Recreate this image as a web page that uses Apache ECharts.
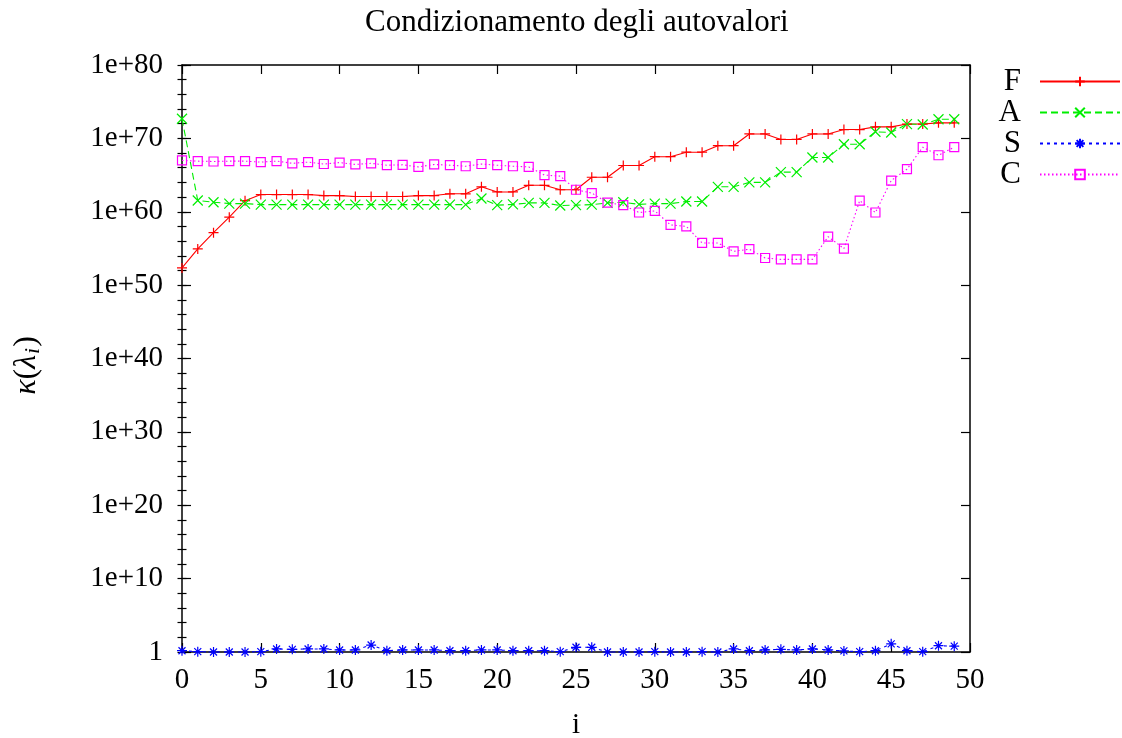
<!DOCTYPE html>
<html>
<head>
<meta charset="utf-8">
<title>Condizionamento degli autovalori</title>
<script src="https://cdn.jsdelivr.net/npm/echarts@6/dist/echarts.min.js"></script>
<style>
  html, body { margin: 0; padding: 0; background: #ffffff; }
  #chart { width: 1122px; height: 738px; }
</style>
</head>
<body>
<div id="chart"></div>
<script>
// Eigenvalue index
const indices = Array.from({ length: 50 }, (_, i) => i);

// Condition number of each eigenvalue, one array per method
const seriesF = [
  2.2e52, 8.7e54, 1.4e57, 1.8e59, 3.2e61, 2.2e62, 2.2e62, 2.2e62, 2.2e62, 1.6e62,
  1.6e62, 1.2e62, 1.2e62, 1.2e62, 1.2e62, 1.6e62, 1.6e62, 2.8e62, 2.8e62, 2.5e63,
  5.0e62, 5.0e62, 4.0e63, 4.0e63, 1.0e63, 1.0e63, 5.0e64, 5.0e64, 2.0e66, 2.0e66,
  3.2e67, 3.2e67, 1.3e68, 1.3e68, 1.0e69, 1.0e69, 4.0e70, 4.0e70, 7.1e69, 7.1e69,
  4.0e70, 4.0e70, 1.6e71, 1.6e71, 3.7e71, 3.7e71, 8.9e71, 8.9e71, 1.3e72, 1.3e72
];
const seriesA = [
  4.7e72, 3.4e61, 2.0e61, 1.3e61, 1.3e61, 9.5e60, 9.5e60, 9.5e60, 9.5e60, 9.5e60,
  9.5e60, 9.5e60, 9.5e60, 9.5e60, 9.5e60, 9.5e60, 9.5e60, 9.5e60, 9.5e60, 6.3e61,
  7.9e60, 1.0e61, 1.6e61, 1.6e61, 7.1e60, 7.9e60, 9.5e60, 1.6e61, 2.0e61, 1.0e61,
  1.3e61, 1.3e61, 2.5e61, 2.5e61, 2.5e63, 2.5e63, 1.0e64, 1.0e64, 2.5e65, 2.5e65,
  2.5e67, 2.5e67, 1.6e69, 1.6e69, 7.9e70, 6.3e70, 8.9e71, 7.9e71, 4.0e72, 4.0e72
];
const seriesS = [
  1.5, 1.1, 1.0, 1.0, 1.0, 1.1, 2.6, 2.3, 2.6, 2.6,
  1.9, 1.9, 8.9, 1.5, 1.9, 1.9, 1.9, 1.5, 1.5, 1.9,
  1.9, 1.5, 1.5, 1.5, 1.1, 4.4, 4.4, 1.0, 1.0, 1.0,
  1.1, 1.0, 1.0, 1.1, 1.0, 2.6, 1.5, 1.9, 2.3, 1.9,
  2.6, 1.9, 1.4, 1.1, 1.5, 13, 1.5, 1.1, 7.2, 6.3
];
const seriesC = [
  1.0e67, 7.9e66, 7.1e66, 7.9e66, 7.9e66, 5.8e66, 7.9e66, 4.0e66, 5.8e66, 3.2e66,
  5.0e66, 2.8e66, 4.0e66, 2.2e66, 2.5e66, 1.3e66, 2.8e66, 2.2e66, 1.6e66, 3.2e66,
  2.2e66, 1.6e66, 1.3e66, 1.0e65, 7.1e64, 1.0e63, 3.5e62, 1.8e61, 7.9e60, 7.9e59,
  1.3e60, 1.6e58, 1.0e58, 5.6e55, 5.6e55, 4.0e54, 7.9e54, 5.0e53, 3.2e53, 3.2e53,
  3.2e53, 4.0e56, 9.5e54, 3.2e61, 7.9e59, 1.8e64, 6.3e65, 6.3e68, 5.0e67, 6.3e68
];

// Axis settings
const xTicks = { min: 0, max: 50, step: 5 };
const yDecades = { min: 1, max: 1e80, step: 10 };
// Minor ticks every two decades (exponent scale 0..80)
const yMinor = { min: 0, max: 80, step: 2 };

const FONT = 'Liberation Serif';

function pairs(values) {
  return values.map((v, i) => [indices[i], v]);
}

function yLabel(v) {
  const e = Math.round(Math.log10(v));
  return e === 0 ? '1' : '1e+' + e;
}

const boxLine = { show: true, onZero: false, lineStyle: { color: '#000', width: 1.5 } };
const majorTick = { show: true, inside: true, length: 9, lineStyle: { color: '#000', width: 1.2 } };
const shortTick = { show: true, inside: true, length: 4.5, lineStyle: { color: '#000', width: 1.2 } };

function xAxisDef(pos, withLabels) {
  return {
    type: 'value',
    position: pos,
    min: xTicks.min, max: xTicks.max, interval: xTicks.step,
    axisLine: boxLine,
    axisTick: majorTick,
    splitLine: { show: false },
    axisLabel: { show: withLabels, color: '#000', fontFamily: FONT, fontSize: 29, margin: 14 },
    name: withLabels ? 'i' : '',
    nameLocation: 'middle',
    nameGap: 59,
    nameTextStyle: { color: '#000', fontFamily: FONT, fontSize: 29 }
  };
}

function yAxisDef(pos, withLabels) {
  return {
    type: 'log',
    logBase: 10,
    position: pos,
    min: yDecades.min, max: yDecades.max, interval: yDecades.step,
    axisLine: boxLine,
    axisTick: majorTick,
    minorTick: { show: false },
    splitLine: { show: false },
    axisLabel: { show: withLabels, color: '#000', fontFamily: FONT, fontSize: 29, margin: 19, formatter: yLabel },
    name: withLabels ? '{g|κ}{u|(}{g|λ}{s|i}{u|)}' : '',
    nameLocation: 'middle',
    nameRotate: 90,
    nameGap: 138,
    nameTextStyle: {
      color: '#000', fontFamily: FONT, fontSize: 32,
      padding: [0, 14, 0, 0],
      rich: {
        g: { fontFamily: FONT, fontSize: 32, fontStyle: 'italic', color: '#000' },
        u: { fontFamily: FONT, fontSize: 32, color: '#000' },
        s: { fontFamily: FONT, fontSize: 22, fontStyle: 'italic', color: '#000', verticalAlign: 'bottom', padding: [13, 1, 0, 1] }
      }
    }
  };
}

// Tick-only axis for the minor marks on one side of the frame
function yMinorDef(pos) {
  return {
    type: 'value',
    position: pos,
    min: yMinor.min, max: yMinor.max, interval: yMinor.step,
    axisLine: { show: false },
    axisTick: shortTick,
    axisLabel: { show: false },
    splitLine: { show: false }
  };
}

function lineSeries(name, values, color, symbol, size, dash) {
  return {
    name: name,
    type: 'line',
    data: pairs(values),
    color: color,
    symbol: symbol,
    symbolSize: size,
    clip: false,
    animation: false,
    emphasis: { disabled: true },
    lineStyle: { color: color, width: 1.1, type: dash },
    itemStyle: { color: 'rgba(0,0,0,0)', borderColor: color, borderWidth: 1.2 }
  };
}

const SYM_PLUS = 'path://M0,5L10,5M5,0L5,10';
const SYM_CROSS = 'path://M0,0L10,10M0,10L10,0';
const SYM_STAR = 'path://M0,5L10,5M5,0L5,10M1.5,1.5L8.5,8.5M1.5,8.5L8.5,1.5';

const chart = echarts.init(document.getElementById('chart'), null, { renderer: 'canvas' });
chart.setOption({
  backgroundColor: '#ffffff',
  animation: false,
  title: {
    text: 'Condizionamento degli autovalori',
    left: 365,
    top: 7,
    padding: 0,
    textStyle: { color: '#000', fontFamily: FONT, fontSize: 31, fontWeight: 'normal' }
  },
  legend: {
    orient: 'vertical',
    right: 1,
    top: 66,
    padding: 0,
    align: 'right',
    itemWidth: 80,
    itemHeight: 12,
    itemGap: 0,
    selectedMode: false,
    textStyle: { color: '#000', fontFamily: FONT, fontSize: 31, lineHeight: 29.6, padding: [0, 14, 0, 0] },
    data: ['F', 'A', 'S', 'C']
  },
  grid: { left: 182, right: 152, top: 65, bottom: 86, outerBoundsMode: 'none', containLabel: false },
  xAxis: [xAxisDef('bottom', true), xAxisDef('top', false)],
  yAxis: [yAxisDef('left', true), yAxisDef('right', false), yMinorDef('left'), yMinorDef('right')],
  series: [
    lineSeries('F', seriesF, '#ff0000', SYM_PLUS, 10, 'solid'),
    lineSeries('A', seriesA, '#00ee00', SYM_CROSS, 10, [7, 4]),
    lineSeries('S', seriesS, '#0000ff', SYM_STAR, 10, [3, 4]),
    lineSeries('C', seriesC, '#ff00ff', 'rect', 9, [1.5, 2.5])
  ]
});
</script>
</body>
</html>
